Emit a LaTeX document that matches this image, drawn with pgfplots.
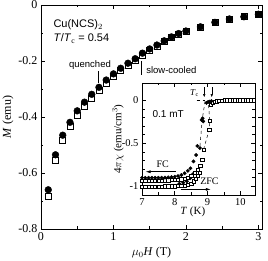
\documentclass[border=0pt]{standalone}
\usepackage{pgfplots}
\pgfplotsset{compat=1.18}
\usetikzlibrary{arrows.meta}
\usepackage{fontspec}
\setmainfont{Liberation Serif}
\newfontfamily\hv{Liberation Sans}

\begin{document}
\begin{tikzpicture}[x=1pt,y=1pt]
\useasboundingbox (0,0) rectangle (268,261);
\begin{axis}[
  at={(41pt,32pt)}, anchor=south west, scale only axis,
  width=221pt, height=224pt,
  xmin=0, xmax=3.05, ymin=-0.8, ymax=0,
  xtick={0,1,2,3}, xticklabels={0,1,2,3}, minor x tick num=1,
  ytick={-0.8,-0.6,-0.4,-0.2,0}, yticklabels={-0.8,-0.6,-0.4,-0.2,0},
  minor y tick num=1,
  tick align=inside, major tick length=4pt, minor tick length=2.5pt,
  tick style={line width=0.6pt, black},
  axis line style={line width=0.7pt},
  ticklabel style={font=\fontsize{12}{12}\selectfont},
  label style={font=\fontsize{12}{12}\selectfont},
  xlabel={$\mu_0$\textit{H} (T)}, ylabel={\textit{M} (emu)},
  xlabel style={at={(axis description cs:0.5,-0.107)}, anchor=center},
  ylabel style={at={(axis description cs:-0.149,0.5)}, anchor=center},
  clip=false
]
\addplot[only marks, mark=square*, mark size=3.0pt, mark options={fill=white, draw=black, line width=0.6pt}] coordinates {
(0.1,-0.685) (0.2,-0.555) (0.3,-0.483) (0.4,-0.432) (0.5,-0.393) (0.6,-0.362)
(0.7,-0.333) (0.8,-0.306) (0.9,-0.279) (1.0,-0.256) (1.1,-0.235) (1.2,-0.216)
(1.3,-0.199) (1.4,-0.178) (1.5,-0.162) (1.6,-0.147) (1.7,-0.131) (1.8,-0.116)
(1.9,-0.103) (2.0,-0.094) (2.2,-0.078) (2.4,-0.062) (2.6,-0.050) (2.8,-0.042) (3.0,-0.033)
};
\addplot[only marks, mark=*, mark size=3.4pt, mark options={fill=black, draw=black}] coordinates {
(0.1,-0.660) (0.2,-0.535) (0.3,-0.465) (0.4,-0.419) (0.5,-0.378) (0.6,-0.347)
(0.7,-0.319) (0.8,-0.294) (0.9,-0.268) (1.0,-0.246) (1.1,-0.226) (1.2,-0.208)
(1.3,-0.192) (1.4,-0.172) (1.5,-0.157) (1.6,-0.143) (1.7,-0.128) (1.8,-0.114)
(1.9,-0.102) (2.0,-0.093) (2.2,-0.078) (2.4,-0.062) (2.6,-0.050) (2.8,-0.042) (3.0,-0.033)
};
\node[anchor=west, font=\hv\fontsize{11}{11}\selectfont, inner sep=0pt] at (axis cs:0.17,-0.070) {Cu(NCS)$_2$};
\node[anchor=west, font=\hv\fontsize{11}{11}\selectfont, inner sep=0pt] at (axis cs:0.17,-0.120) {\textit{T}/\textit{T}$_\mathrm{c}$ = 0.54};
\node[anchor=center, font=\hv\fontsize{9.5}{9.5}\selectfont, inner sep=0pt] at (axis cs:0.676,-0.214) {quenched};
\draw[line width=0.6pt] (axis cs:0.786,-0.236) -- (axis cs:0.786,-0.279);
\node[anchor=west, font=\hv\fontsize{9.5}{9.5}\selectfont, inner sep=0pt] at (axis cs:1.45,-0.232) {slow-cooled};
\draw[line width=0.6pt] (axis cs:1.39,-0.200) -- (axis cs:1.39,-0.250);
\end{axis}

\begin{axis}[
  at={(142pt,66pt)}, anchor=south west, scale only axis,
  width=113pt, height=112pt,
  xmin=7, xmax=10.45, ymin=-1.1, ymax=0.2,
  axis background/.style={fill=white},
  xtick={7,8,9,10}, xticklabels={7,8,9,10}, minor x tick num=1,
  ytick={-1,-0.5,0}, yticklabels={-1,-0.5,0}, minor y tick num=4,
  tick align=inside, major tick length=4pt, minor tick length=2.5pt,
  tick style={line width=0.6pt, black},
  axis line style={line width=0.7pt},
  ticklabel style={font=\fontsize{10.5}{10.5}\selectfont},
  label style={font=\fontsize{11}{11}\selectfont},
  xlabel={\textit{T} (K)}, ylabel={4$\pi\chi$ (emu/cm$^3$)},
  xlabel style={at={(axis description cs:0.45,-0.152)}, anchor=center},
  ylabel style={at={(axis description cs:-0.212,0.5)}, anchor=center},
  clip=false
]
% dashed jump lines
\addplot[dashed, line width=0.5pt] coordinates {(8.77,-0.53) (8.84,-0.22) (8.93,0)};
\addplot[dashed, line width=0.5pt] coordinates {(8.88,-0.57) (9.05,-0.345) (9.07,-0.24) (9.02,0)};
\addplot[dashed, line width=0.5pt] coordinates {(8.67,0) (8.93,0)};
% ZFC slow-cooled (squares)
\addplot[only marks, mark=square*, mark size=1.6pt, mark options={fill=white, draw=black, line width=0.45pt}] coordinates {
(7.0,-1.0) (7.1,-1.0) (7.2,-1.0) (7.3,-1.0) (7.4,-1.0) (7.5,-1.0) (7.6,-1.0) (7.7,-0.999)
(7.8,-0.999) (7.9,-0.998) (8.0,-0.998) (8.1,-0.997) (8.2,-0.995) (8.3,-0.99) (8.4,-0.985)
(8.5,-0.97) (8.57,-0.94) (8.64,-0.91) (8.70,-0.88) (8.76,-0.84)
};
% ZFC quenched (circles)
\addplot[only marks, mark=*, mark size=1.7pt, mark options={fill=black, draw=black}] coordinates {
(8.14,-0.97) (8.26,-0.957) (8.37,-0.94) (8.47,-0.907) (8.55,-0.86)
};
% FC slow-cooled (squares)
\addplot[only marks, mark=square*, mark size=1.6pt, mark options={fill=white, draw=black, line width=0.45pt}] coordinates {
(7.0,-0.93) (7.1,-0.93) (7.2,-0.93) (7.3,-0.93) (7.4,-0.93) (7.5,-0.93) (7.6,-0.93)
(7.7,-0.929) (7.8,-0.928) (7.9,-0.927) (8.0,-0.925) (8.1,-0.922) (8.2,-0.918)
(8.3,-0.91) (8.4,-0.898) (8.5,-0.877) (8.6,-0.845) (8.7,-0.81) (8.78,-0.76)
(8.84,-0.69) (8.88,-0.57) (9.05,-0.345) (9.07,-0.24)
(9.10,-0.05) (9.16,-0.03) (9.22,-0.02) (9.28,-0.012) (9.36,-0.006) (9.44,-0.003)
(9.52,0) (9.60,0) (9.68,0) (9.76,0) (9.84,0) (9.92,0) (10.0,0) (10.08,0)
(10.16,0) (10.24,0) (10.32,0) (10.40,0)
};
% FC quenched (circles)
\addplot[only marks, mark=*, mark size=1.7pt, mark options={fill=black, draw=black}] coordinates {
(7.0,-0.90) (7.1,-0.90) (7.2,-0.90) (7.3,-0.90) (7.4,-0.90) (7.5,-0.90) (7.6,-0.899)
(7.7,-0.898) (7.8,-0.896) (7.9,-0.893) (8.0,-0.888) (8.1,-0.88) (8.2,-0.868)
(8.3,-0.848) (8.4,-0.82) (8.48,-0.79) (8.57,-0.71) (8.65,-0.636) (8.69,-0.53) (8.77,-0.555)
(8.82,-0.23) (8.85,-0.21) (8.87,-0.245)
(8.97,-0.03) (9.02,-0.02) (9.07,-0.015) (9.12,-0.01)
};
% annotations
\node[font=\hv\fontsize{10}{10}\selectfont, inner sep=0pt] at (axis cs:7.8,-0.163) {0.1 mT};
\node[font=\fontsize{10}{10}\selectfont, inner sep=0pt] at (axis cs:7.63,-0.74) {FC};
\draw[-{Latex[length=5pt,width=3pt]}, line width=0.6pt] (axis cs:8.03,-0.83) -- (axis cs:7.11,-0.83);
\node[font=\fontsize{10}{10}\selectfont, inner sep=0pt] at (axis cs:9.06,-0.94) {ZFC};
\draw[-{Latex[length=5pt,width=3pt]}, line width=0.6pt] (axis cs:8.18,-1.035) -- (axis cs:9.1,-1.035);
\node[font=\fontsize{9}{9}\selectfont, inner sep=0pt] at (axis cs:8.6,0.08) {\textit{T}$_\mathrm{c}$};
\draw[-{Latex[length=3pt,width=2.5pt]}, line width=0.5pt] (axis cs:8.9,0.15) -- (axis cs:8.9,0.035);
\draw[-{Latex[length=3pt,width=2.5pt]}, line width=0.5pt] (axis cs:9.13,0.15) -- (axis cs:9.13,0.035);
\end{axis}
\end{tikzpicture}
\end{document}
